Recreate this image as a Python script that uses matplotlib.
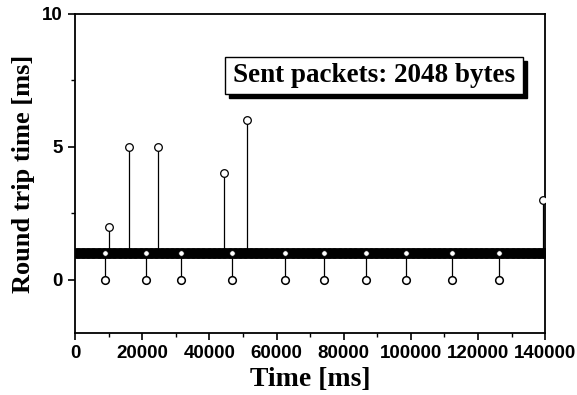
import numpy as np
import matplotlib
matplotlib.use("Agg")
import matplotlib.pyplot as plt
from matplotlib.patches import Rectangle
from matplotlib.ticker import MultipleLocator

# ---------------- DATA ----------------
# regular ping samples at 1 ms round trip time
sample_interval = 250                       # ms between pings
t_end = 140000
base_rtt = 1

# delayed replies (stems up from the 1 ms baseline)
spike_t = [10100, 16000, 24700, 44300, 51100, 139300]
spike_rtt = [2, 5, 5, 4, 6, 3]

# replies recorded as 0 ms (stems down from the baseline)
drop_t = [9000, 21100, 31500, 46700, 62400, 74000, 86500, 98500, 112100, 126300]
drop_rtt = [0, 0, 0, 0, 0, 0, 0, 0, 0, 0]

base_t = np.arange(0, t_end + 1, sample_interval)

# ---------------- FIGURE ----------------
fig = plt.figure(figsize=(5.77, 3.95), dpi=100)
ax = fig.add_axes([0.130, 0.157, 0.815, 0.808])

# dense baseline band
ax.plot(base_t, np.full(len(base_t), base_rtt), ls="none", marker="o", ms=6,
        mfc="none", mec="black", mew=1.3, zorder=2)

# stems
ax.vlines(spike_t, base_rtt, spike_rtt, color="black", lw=0.9, zorder=3)
ax.vlines(drop_t, base_rtt, drop_rtt, color="black", lw=0.9, zorder=3)

# markers at stem ends
ax.plot(spike_t, spike_rtt, ls="none", marker="o", ms=5.5, mfc="white",
        mec="black", mew=0.9, zorder=4)
ax.plot(drop_t, drop_rtt, ls="none", marker="o", ms=5.5, mfc="white",
        mec="black", mew=1.1, zorder=4)
ax.plot(drop_t, [base_rtt] * len(drop_t), ls="none", marker="o", ms=4,
        mfc="white", mec="black", mew=0.6, zorder=4)

ax.set_xlim(0, 140000)
ax.set_ylim(-2, 10)
ax.xaxis.set_major_locator(MultipleLocator(20000))
ax.xaxis.set_minor_locator(MultipleLocator(10000))
ax.yaxis.set_major_locator(MultipleLocator(5))
ax.yaxis.set_minor_locator(MultipleLocator(2.5))
ax.tick_params(which="major", direction="out", length=5, width=1.2, pad=4)
ax.tick_params(which="minor", direction="out", length=3, width=1.0)
ax.tick_params(top=False, right=False)
for lab in ax.get_xticklabels() + ax.get_yticklabels():
    lab.set_fontfamily("Liberation Sans")
    lab.set_fontweight("bold")
    lab.set_fontsize(13.5)
for s in ax.spines.values():
    s.set_linewidth(1.3)

ax.set_xlabel("Time [ms]", family="Liberation Serif", weight="bold",
              fontsize=20, labelpad=3)
ax.set_ylabel("Round trip time [ms]", family="Liberation Serif",
              weight="bold", fontsize=19, labelpad=5)

# ---------------- TEXT BOX WITH SHADOW ----------------
bx, by, bw, bh = 0.319, 0.749, 0.634, 0.116
ax.add_patch(Rectangle((bx + 0.009, by - 0.013), bw, bh, transform=ax.transAxes,
                       facecolor="black", edgecolor="black", zorder=5))
ax.add_patch(Rectangle((bx, by), bw, bh, transform=ax.transAxes,
                       facecolor="white", edgecolor="black", lw=1.0, zorder=6))
ax.text(bx + bw / 2, by + bh / 2, "Sent packets: 2048 bytes",
        transform=ax.transAxes, ha="center", va="center",
        family="Liberation Serif", weight="bold", fontsize=19.5, zorder=7)

fig.savefig("out.png", dpi=100)
